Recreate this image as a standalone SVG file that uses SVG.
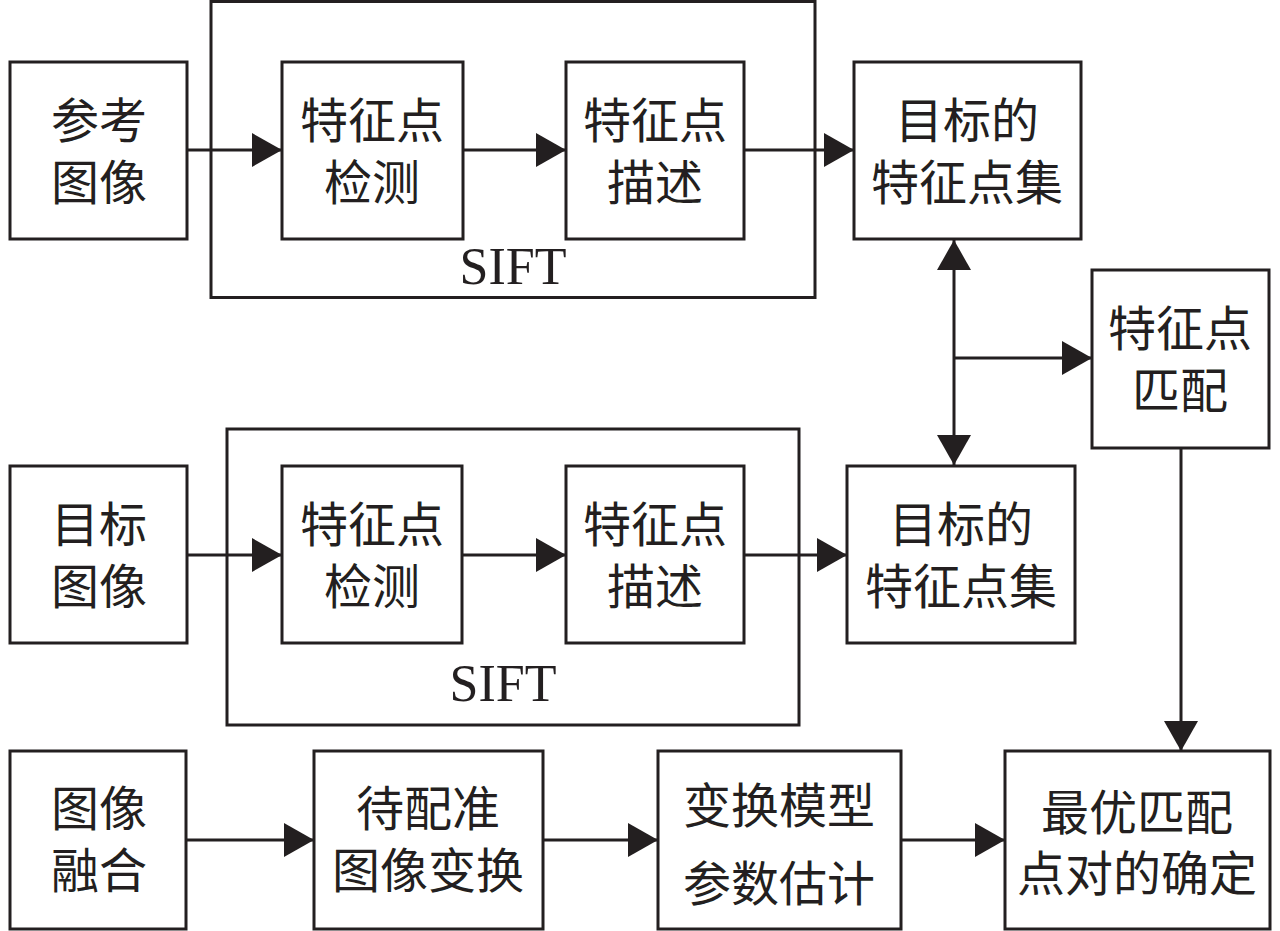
<svg xmlns="http://www.w3.org/2000/svg" width="1280" height="931" viewBox="0 0 1280 931">
<style>
.box{fill:none;stroke:#231f20;stroke-width:3}
.t{font-family:"Noto Sans CJK SC","Noto Sans CJK JP",sans-serif;font-size:48px;fill:#231f20;text-anchor:middle;dominant-baseline:central}
.s{font-family:"Liberation Serif","Times New Roman",serif;font-size:52px;fill:#231f20;text-anchor:middle}
.c{fill:none;stroke:#231f20;stroke-width:3}
</style>
<defs>
<marker id="ah" markerUnits="userSpaceOnUse" markerWidth="32" markerHeight="36" refX="30" refY="17" orient="auto-start-reverse">
<path d="M0,0 L30,17 L0,34 Z" fill="#231f20"/>
</marker>
</defs>
<rect width="1280" height="931" fill="#fff"/>
<g id="sift1"><rect class="box" x="211" y="1.5" width="604" height="296"/><text class="s" x="513" y="284">SIFT</text></g>
<g id="sift2"><rect class="box" x="227" y="429" width="572" height="296"/><text class="s" x="503" y="701">SIFT</text></g>
<g id="ref"><rect class="box" x="10" y="62" width="177" height="177"/><text class="t" x="99" y="117">参考</text><text class="t" x="99" y="179">图像</text></g>
<g id="det1"><rect class="box" x="282" y="62" width="181" height="177"/><text class="t" x="372" y="117">特征点</text><text class="t" x="372" y="179">检测</text></g>
<g id="des1"><rect class="box" x="566" y="62" width="178" height="177"/><text class="t" x="655" y="117">特征点</text><text class="t" x="655" y="179">描述</text></g>
<g id="set1"><rect class="box" x="854" y="62" width="227" height="177"/><text class="t" x="967" y="117">目标的</text><text class="t" x="967" y="179">特征点集</text></g>
<g id="match"><rect class="box" x="1092" y="270" width="177" height="178"/><text class="t" x="1180" y="325">特征点</text><text class="t" x="1180" y="387">匹配</text></g>
<g id="tgt"><rect class="box" x="10" y="466" width="177" height="177"/><text class="t" x="99" y="521">目标</text><text class="t" x="99" y="583">图像</text></g>
<g id="det2"><rect class="box" x="282" y="466" width="180" height="177"/><text class="t" x="372" y="521">特征点</text><text class="t" x="372" y="583">检测</text></g>
<g id="des2"><rect class="box" x="566" y="466" width="178" height="177"/><text class="t" x="655" y="521">特征点</text><text class="t" x="655" y="583">描述</text></g>
<g id="set2"><rect class="box" x="847" y="466" width="228" height="177"/><text class="t" x="961" y="521">目标的</text><text class="t" x="961" y="583">特征点集</text></g>
<g id="fuse"><rect class="box" x="10" y="751" width="176" height="178"/><text class="t" x="99" y="805">图像</text><text class="t" x="99" y="867">融合</text></g>
<g id="warp"><rect class="box" x="314" y="751" width="229" height="178"/><text class="t" x="428" y="805">待配准</text><text class="t" x="428" y="867">图像变换</text></g>
<g id="est"><rect class="box" x="658" y="751" width="243" height="178"/><text class="t" x="779" y="802">变换模型</text><text class="t" x="779" y="880">参数估计</text></g>
<g id="best"><rect class="box" x="1005" y="751" width="265" height="178"/><text class="t" x="1137" y="809">最优匹配</text><text class="t" x="1137" y="870">点对的确定</text></g>
<g id="connectors">
<line class="c" x1="187" y1="150" x2="282" y2="150" marker-end="url(#ah)"/>
<line class="c" x1="463" y1="150" x2="566" y2="150" marker-end="url(#ah)"/>
<line class="c" x1="744" y1="150" x2="854" y2="150" marker-end="url(#ah)"/>
<line class="c" x1="187" y1="555" x2="282" y2="555" marker-end="url(#ah)"/>
<line class="c" x1="462" y1="555" x2="566" y2="555" marker-end="url(#ah)"/>
<line class="c" x1="744" y1="555" x2="847" y2="555" marker-end="url(#ah)"/>
<line class="c" x1="954" y1="240" x2="954" y2="465" marker-start="url(#ah)" marker-end="url(#ah)"/>
<line class="c" x1="954" y1="358" x2="1092" y2="358" marker-end="url(#ah)"/>
<line class="c" x1="1181" y1="448" x2="1181" y2="751" marker-end="url(#ah)"/>
<line class="c" x1="186" y1="840" x2="314" y2="840" marker-end="url(#ah)"/>
<line class="c" x1="543" y1="840" x2="658" y2="840" marker-end="url(#ah)"/>
<line class="c" x1="901" y1="840" x2="1005" y2="840" marker-end="url(#ah)"/>
</g>
</svg>
